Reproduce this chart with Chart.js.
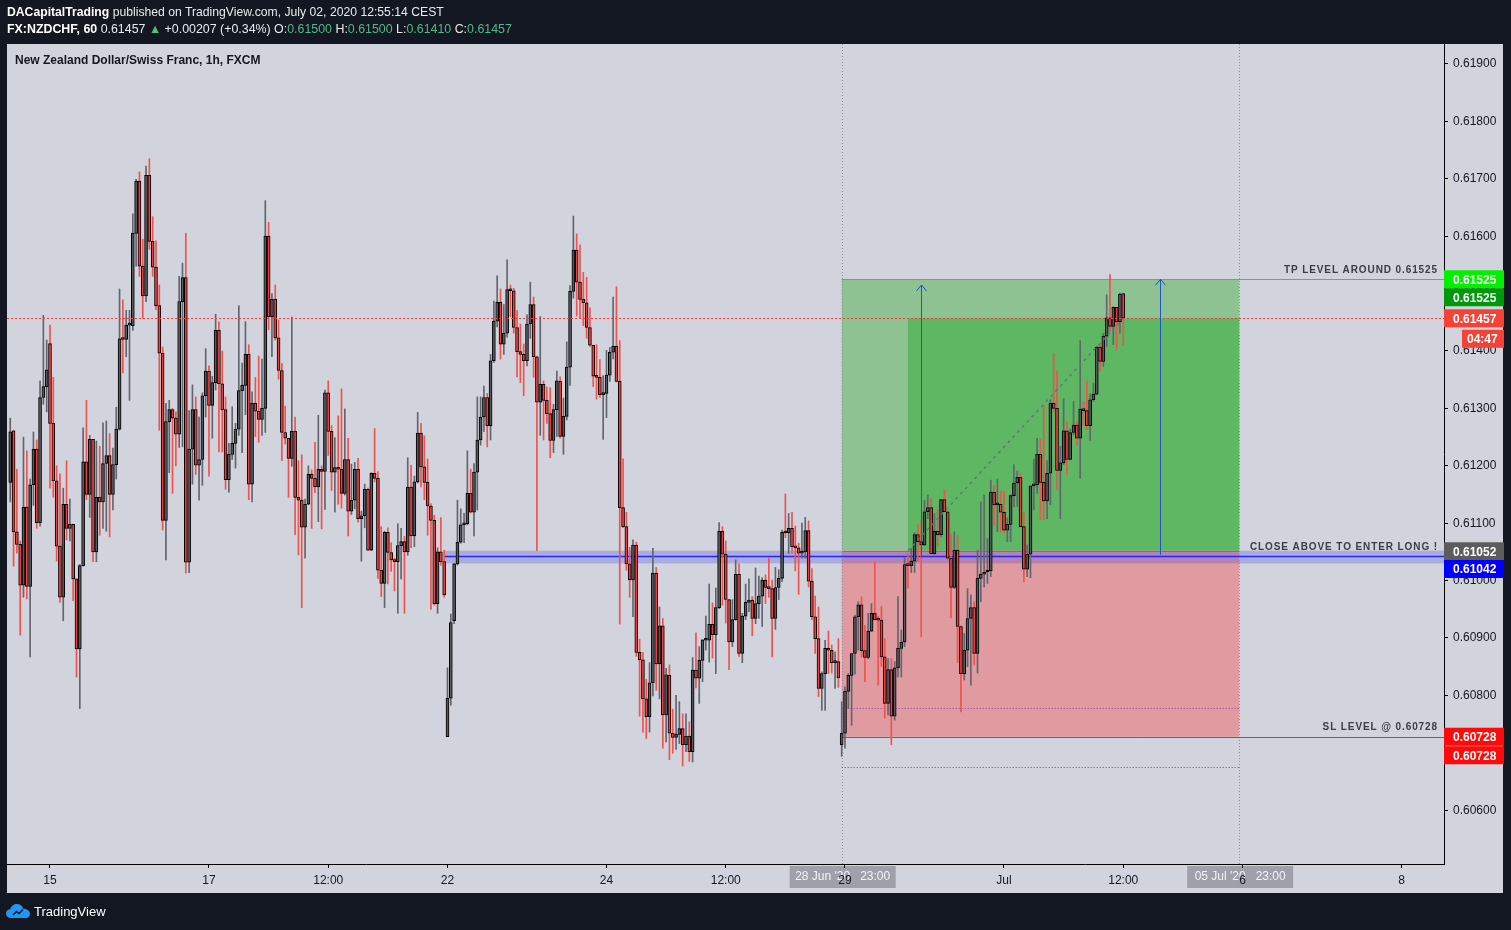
<!DOCTYPE html>
<html lang="en">
<head>
<meta charset="UTF-8">
<title>NZDCHF 1h - TradingView</title>
<script src="https://cdn.jsdelivr.net/npm/chart.js"></script>
<style>
  body { margin: 0; background: #131722; }
  #wrap { position: relative; width: 1511px; height: 930px; overflow: hidden; }
  #chart { position: absolute; left: 0; top: 0; }
  .hdr { position: absolute; left: 7px; font-family: 'Liberation Sans', Arial, sans-serif; color: #e9eaee; white-space: pre; }
  .hdr b { color: #fff; }
  .up { color: #53b987; }
  #title { position: absolute; left: 15px; top: 53px; font: bold 12px 'Liberation Sans', Arial, sans-serif; color: #131722; }
  #footer { position: absolute; left: 6px; top: 902px; height: 18px; display: flex; align-items: center; gap: 4px;
            font: 13px 'Liberation Sans', Arial, sans-serif; color: #fff; }
</style>
</head>
<body>
<div id="wrap">
  <canvas id="chart" width="1511" height="930"></canvas>
  <div class="hdr" style="top:5px; font-size:12.2px"><b>DACapitalTrading</b> published on TradingView.com, July 02, 2020 12:55:14 CEST</div>
  <div class="hdr" style="top:22px; font-size:12.4px"><b>FX:NZDCHF, 60</b> 0.61457 <span class="up">▲</span> +0.00207 (+0.34%) O:<span class="up">0.61500</span> H:<span class="up">0.61500</span> L:<span class="up">0.61410</span> C:<span class="up">0.61457</span></div>
  <div id="title">New Zealand Dollar/Swiss Franc, 1h, FXCM</div>
  <div id="footer">
    <svg width="24" height="16" viewBox="0 0 24 16">
      <path d="M5 15 C1.5 15 0 12.5 0 10.5 C0 8 2 6.2 4.3 6.3 C5 3 7.8 1 10.8 1 C14 1 16.4 3 17.2 5.8 C20.8 5.6 24 8 24 11 C24 13.3 22.3 15 20 15 Z" fill="#2196f3"/>
      <path d="M7 12 L10.5 8.5 L13 10.5 L17 6.5" stroke="#131722" stroke-width="1.6" fill="none"/>
    </svg>
    <span>TradingView</span>
  </div>
</div>
<script>
// hourly candles, first one is 12 bars before Mon 15 Jun 00:00
const firstBar = -12;

const opens = [
  0.61171,0.61261,0.61085,0.61063,0.60992,0.61128,0.60990,0.61167,0.61229,0.61101,
  0.61319,0.61338,0.61413,0.61274,0.61174,0.61060,0.60971,0.61133,0.61091,0.61098,
  0.61003,0.60881,0.61026,0.61207,0.61150,0.61246,0.61050,0.61145,0.61137,0.61204,
  0.61218,0.61150,0.61202,0.61264,0.61421,0.61420,0.61445,0.61444,0.61605,0.61696,
  0.61548,0.61496,0.61706,0.61591,0.61546,0.61479,0.61396,0.61105,0.61277,0.61298,
  0.61283,0.61255,0.61486,0.61528,0.61032,0.61229,0.61298,0.61201,0.61211,0.61322,
  0.61365,0.61305,0.61345,0.61436,0.61343,0.61298,0.61176,0.61220,0.61239,0.61264,
  0.61331,0.61340,0.61394,0.61168,0.61309,0.61295,0.61281,0.61300,0.61600,0.61460,
  0.61490,0.61423,0.61366,0.61258,0.61248,0.61213,0.61260,0.61145,0.61140,0.61093,
  0.61133,0.61185,0.61178,0.61163,0.61194,0.61190,0.61327,0.61260,0.61189,0.61197,
  0.61194,0.61152,0.61211,0.61121,0.61140,0.61194,0.61108,0.61113,0.61159,0.61053,
  0.61187,0.61178,0.61018,0.60995,0.61084,0.61049,0.61036,0.61033,0.61061,0.61068,
  0.61050,0.61163,0.61078,0.61172,0.61257,0.61198,0.61171,0.61130,0.61105,0.60960,
  0.61050,0.61033,0.60728,0.60795,0.60930,0.61029,0.61067,0.61097,0.61099,0.61152,
  0.61119,0.61189,0.61245,0.61285,0.61319,0.61270,0.61383,0.61452,0.61485,0.61412,
  0.61431,0.61507,0.61505,0.61441,0.61399,0.61394,0.61383,0.61447,0.61481,0.61390,
  0.61311,0.61342,0.61314,0.61291,0.61244,0.61298,0.61347,0.61251,0.61286,0.61372,
  0.61504,0.61576,0.61520,0.61490,0.61484,0.61441,0.61410,0.61356,0.61354,0.61324,
  0.61326,0.61358,0.61398,0.61408,0.61347,0.61127,0.61094,0.61029,0.61001,0.61062,
  0.60875,0.60862,0.60794,0.60763,0.60822,0.61013,0.60855,0.60921,0.60766,0.60835,
  0.60734,0.60727,0.60732,0.60742,0.60714,0.60729,0.60702,0.60844,0.60830,0.60861,
  0.60896,0.60896,0.60924,0.60906,0.60953,0.61086,0.61046,0.60967,0.60893,0.60932,
  0.61011,0.60873,0.60938,0.60962,0.60966,0.60934,0.60960,0.60973,0.61001,0.60988,
  0.60986,0.60934,0.60988,0.61004,0.61084,0.61083,0.61091,0.61059,0.61057,0.61048,
  0.61050,0.61087,0.60999,0.60937,0.60899,0.60812,0.60838,0.60882,0.60879,0.60857,
  0.60859,0.60714,0.60734,0.60807,0.60835,0.60873,0.60937,0.60958,0.60878,0.60866,
  0.60912,0.60943,0.60932,0.60931,0.60867,0.60786,0.60845,0.60764,0.60848,0.60882,
  0.60893,0.61028,0.61026,0.61034,0.61080,0.61068,0.61062,0.61120,0.61127,0.61047,
  0.61086,0.61080,0.61141,0.61120,0.61039,0.60988,0.61053,0.60920,0.60838,0.60879,
  0.60934,0.60953,0.60873,0.61004,0.61011,0.61015,0.61017,0.61154,0.61132,0.61133,
  0.61119,0.61088,0.61098,0.61148,0.61170,0.61180,0.61094,0.61020,0.61046,0.61165,
  0.61167,0.61220,0.61171,0.61139,0.61187,0.61309,0.61300,0.61192,0.61205,0.61261,
  0.61211,0.61258,0.61271,0.61248,0.61299,0.61296,0.61270,0.61315,0.61325,0.61407,
  0.61382,0.61426,0.61458,0.61443,0.61476,0.61451,0.61500
];

const highs = [
  0.61283,0.61262,0.61194,0.61069,0.61250,0.61226,0.61177,0.61259,0.61245,0.61348,
  0.61462,0.61419,0.61445,0.61354,0.61200,0.61186,0.61161,0.61209,0.61142,0.61098,
  0.61003,0.61028,0.61266,0.61314,0.61253,0.61246,0.61243,0.61234,0.61275,0.61278,
  0.61256,0.61231,0.61302,0.61508,0.61489,0.61471,0.61471,0.61639,0.61699,0.61712,
  0.61595,0.61722,0.61735,0.61634,0.61592,0.61515,0.61407,0.61309,0.61314,0.61300,
  0.61294,0.61530,0.61553,0.61605,0.61296,0.61341,0.61320,0.61285,0.61327,0.61404,
  0.61374,0.61356,0.61464,0.61451,0.61400,0.61320,0.61239,0.61303,0.61274,0.61479,
  0.61379,0.61451,0.61411,0.61329,0.61354,0.61391,0.61386,0.61662,0.61624,0.61500,
  0.61515,0.61454,0.61378,0.61304,0.61248,0.61459,0.61285,0.61209,0.61219,0.61142,
  0.61200,0.61193,0.61241,0.61288,0.61200,0.61332,0.61348,0.61270,0.61249,0.61287,
  0.61334,0.61299,0.61248,0.61203,0.61206,0.61213,0.61121,0.61168,0.61161,0.61188,
  0.61265,0.61190,0.61094,0.61086,0.61092,0.61066,0.61039,0.61099,0.61091,0.61077,
  0.61214,0.61201,0.61182,0.61293,0.61274,0.61252,0.61212,0.61134,0.61114,0.61057,
  0.61110,0.61053,0.60848,0.60942,0.61030,0.61140,0.61125,0.61117,0.61226,0.61194,
  0.61204,0.61320,0.61320,0.61339,0.61326,0.61394,0.61487,0.61531,0.61508,0.61481,
  0.61559,0.61515,0.61509,0.61471,0.61447,0.61412,0.61463,0.61520,0.61494,0.61391,
  0.61460,0.61348,0.61337,0.61336,0.61307,0.61365,0.61355,0.61318,0.61416,0.61514,
  0.61635,0.61604,0.61585,0.61537,0.61528,0.61475,0.61410,0.61411,0.61385,0.61357,
  0.61401,0.61406,0.61494,0.61512,0.61418,0.61212,0.61119,0.61058,0.61071,0.61067,
  0.60898,0.60875,0.60828,0.60857,0.61056,0.61023,0.60954,0.60934,0.60847,0.60853,
  0.60776,0.60800,0.60789,0.60768,0.60768,0.60754,0.60866,0.60909,0.60885,0.60897,
  0.60938,0.60994,0.60961,0.60987,0.61101,0.61094,0.61069,0.60967,0.60967,0.61036,
  0.61029,0.60943,0.60994,0.61003,0.60972,0.61022,0.61008,0.61005,0.61010,0.61040,
  0.61001,0.61023,0.61019,0.61088,0.61151,0.61117,0.61119,0.61095,0.61065,0.61100,
  0.61110,0.61104,0.61021,0.60973,0.60954,0.60841,0.60896,0.60912,0.60888,0.60876,
  0.60899,0.60789,0.60815,0.60838,0.60873,0.60940,0.60963,0.60972,0.60922,0.60943,
  0.60960,0.61033,0.60938,0.60955,0.60899,0.60864,0.60864,0.60859,0.60972,0.60914,
  0.61040,0.61047,0.61056,0.61084,0.61097,0.61105,0.61140,0.61149,0.61143,0.61117,
  0.61124,0.61141,0.61158,0.61120,0.61081,0.61085,0.61079,0.60921,0.60908,0.60986,
  0.60975,0.60963,0.61053,0.61137,0.61149,0.61073,0.61175,0.61166,0.61177,0.61156,
  0.61156,0.61109,0.61150,0.61202,0.61191,0.61187,0.61119,0.61062,0.61165,0.61212,
  0.61248,0.61247,0.61305,0.61209,0.61315,0.61396,0.61365,0.61234,0.61317,0.61277,
  0.61264,0.61312,0.61278,0.61418,0.61312,0.61348,0.61326,0.61344,0.61408,0.61411,
  0.61431,0.61498,0.61533,0.61477,0.61476,0.61501,0.61500
];

const lows = [
  0.61137,0.61025,0.61048,0.60905,0.60971,0.60968,0.60867,0.61131,0.61091,0.61095,
  0.61307,0.61294,0.61161,0.61145,0.61034,0.60962,0.60930,0.61071,0.61069,0.60965,
  0.60832,0.60777,0.61025,0.61141,0.61110,0.61033,0.61033,0.61079,0.61091,0.61086,
  0.61076,0.61123,0.61177,0.61262,0.61362,0.61390,0.61314,0.61436,0.61548,0.61530,
  0.61457,0.61486,0.61577,0.61530,0.61472,0.61262,0.61088,0.61036,0.61188,0.61152,
  0.61200,0.61232,0.61233,0.61013,0.61014,0.61168,0.61185,0.61140,0.61166,0.61285,
  0.61182,0.61248,0.61332,0.61224,0.61224,0.61159,0.61154,0.61211,0.61196,0.61253,
  0.61223,0.61289,0.61141,0.61137,0.61251,0.61241,0.61253,0.61258,0.61437,0.61390,
  0.61419,0.61351,0.61209,0.61238,0.61145,0.61199,0.61080,0.61045,0.60953,0.61039,
  0.61132,0.61091,0.61153,0.61103,0.61090,0.61124,0.61218,0.61157,0.61119,0.61133,
  0.61126,0.61149,0.61078,0.61115,0.61125,0.61102,0.61034,0.61092,0.61052,0.61052,
  0.61172,0.61004,0.60972,0.60953,0.60994,0.61016,0.60982,0.60943,0.61003,0.60943,
  0.61044,0.61057,0.61059,0.61170,0.61163,0.61141,0.61079,0.60950,0.60957,0.60943,
  0.61027,0.60971,0.60728,0.60783,0.60925,0.61027,0.61065,0.61066,0.61097,0.61118,
  0.61078,0.61123,0.61236,0.61260,0.61233,0.61245,0.61380,0.61442,0.61386,0.61394,
  0.61424,0.61460,0.61431,0.61355,0.61345,0.61322,0.61374,0.61422,0.61354,0.61052,
  0.61253,0.61245,0.61274,0.61214,0.61223,0.61251,0.61248,0.61220,0.61280,0.61340,
  0.61492,0.61461,0.61458,0.61444,0.61422,0.61408,0.61338,0.61316,0.61319,0.61246,
  0.61284,0.61347,0.61386,0.61346,0.60924,0.61092,0.61018,0.60971,0.60937,0.60868,
  0.60764,0.60736,0.60725,0.60736,0.60799,0.60809,0.60794,0.60708,0.60719,0.60688,
  0.60699,0.60706,0.60716,0.60677,0.60702,0.60685,0.60684,0.60813,0.60786,0.60824,
  0.60879,0.60858,0.60865,0.60838,0.60951,0.60957,0.60926,0.60845,0.60885,0.60931,
  0.60868,0.60857,0.60932,0.60946,0.60904,0.60925,0.60934,0.60920,0.60960,0.60971,
  0.60867,0.60915,0.60967,0.60998,0.61075,0.61047,0.61047,0.61017,0.60976,0.61039,
  0.61039,0.60989,0.60932,0.60873,0.60798,0.60774,0.60774,0.60838,0.60839,0.60812,
  0.60814,0.60694,0.60708,0.60777,0.60748,0.60837,0.60879,0.60867,0.60824,0.60864,
  0.60911,0.60931,0.60818,0.60850,0.60761,0.60766,0.60714,0.60757,0.60832,0.60832,
  0.60885,0.60987,0.61014,0.61014,0.61033,0.60902,0.61061,0.61108,0.61046,0.61046,
  0.61061,0.61076,0.61120,0.61037,0.60935,0.60986,0.60857,0.60771,0.60827,0.60850,
  0.60818,0.60853,0.60839,0.60963,0.60989,0.60995,0.61007,0.61097,0.61085,0.61084,
  0.61083,0.61068,0.61068,0.61129,0.61129,0.61094,0.60998,0.61007,0.61005,0.61123,
  0.61152,0.61106,0.61106,0.61108,0.61132,0.61294,0.61158,0.61108,0.61202,0.61184,
  0.61210,0.61254,0.61236,0.61178,0.61271,0.61263,0.61244,0.61312,0.61324,0.61365,
  0.61373,0.61408,0.61434,0.61411,0.61402,0.61431,0.61410
];

const closes = [
  0.61259,0.61085,0.61063,0.60992,0.61128,0.60990,0.61167,0.61229,0.61101,0.61319,
  0.61338,0.61367,0.61274,0.61174,0.61060,0.60971,0.61133,0.61091,0.61098,0.61003,
  0.60881,0.61026,0.61207,0.61150,0.61246,0.61050,0.61145,0.61137,0.61204,0.61218,
  0.61150,0.61202,0.61264,0.61421,0.61420,0.61445,0.61446,0.61605,0.61696,0.61548,
  0.61496,0.61706,0.61591,0.61546,0.61479,0.61396,0.61105,0.61277,0.61298,0.61283,
  0.61255,0.61486,0.61528,0.61032,0.61229,0.61298,0.61201,0.61211,0.61322,0.61365,
  0.61305,0.61345,0.61436,0.61343,0.61298,0.61176,0.61220,0.61239,0.61264,0.61331,
  0.61340,0.61394,0.61168,0.61309,0.61295,0.61281,0.61300,0.61600,0.61460,0.61490,
  0.61423,0.61366,0.61258,0.61248,0.61213,0.61260,0.61145,0.61140,0.61093,0.61133,
  0.61185,0.61178,0.61163,0.61194,0.61190,0.61327,0.61260,0.61189,0.61197,0.61194,
  0.61152,0.61211,0.61121,0.61140,0.61194,0.61108,0.61113,0.61159,0.61053,0.61187,
  0.61178,0.61018,0.60995,0.61084,0.61049,0.61036,0.61033,0.61061,0.61068,0.61050,
  0.61163,0.61078,0.61172,0.61257,0.61198,0.61171,0.61130,0.61105,0.60960,0.61050,
  0.61033,0.60975,0.60795,0.60927,0.61029,0.61067,0.61097,0.61099,0.61152,0.61119,
  0.61189,0.61245,0.61285,0.61319,0.61270,0.61383,0.61452,0.61485,0.61412,0.61431,
  0.61507,0.61505,0.61441,0.61399,0.61394,0.61383,0.61447,0.61481,0.61390,0.61311,
  0.61342,0.61314,0.61291,0.61244,0.61298,0.61348,0.61251,0.61286,0.61372,0.61504,
  0.61576,0.61520,0.61490,0.61484,0.61441,0.61410,0.61356,0.61354,0.61324,0.61326,
  0.61358,0.61398,0.61408,0.61347,0.61127,0.61094,0.61029,0.61001,0.61062,0.60875,
  0.60862,0.60794,0.60763,0.60822,0.61013,0.60855,0.60921,0.60766,0.60836,0.60734,
  0.60727,0.60732,0.60742,0.60714,0.60729,0.60702,0.60844,0.60830,0.60861,0.60897,
  0.60897,0.60924,0.60906,0.60953,0.61086,0.61046,0.60967,0.60893,0.60932,0.61011,
  0.60873,0.60938,0.60962,0.60966,0.60934,0.60960,0.60973,0.61001,0.60988,0.60986,
  0.60934,0.60988,0.61004,0.61084,0.61083,0.61091,0.61059,0.61057,0.61048,0.61050,
  0.61087,0.60999,0.60937,0.60899,0.60812,0.60838,0.60882,0.60879,0.60857,0.60859,
  0.60831,0.60734,0.60807,0.60835,0.60873,0.60937,0.60958,0.60878,0.60866,0.60912,
  0.60943,0.60932,0.60931,0.60867,0.60786,0.60845,0.60764,0.60848,0.60882,0.60893,
  0.61028,0.61026,0.61034,0.61080,0.61068,0.61062,0.61120,0.61127,0.61047,0.61086,
  0.61080,0.61141,0.61120,0.61039,0.60988,0.61053,0.60920,0.60838,0.60879,0.60934,
  0.60953,0.60873,0.61004,0.61011,0.61015,0.61017,0.61154,0.61132,0.61133,0.61119,
  0.61088,0.61098,0.61148,0.61170,0.61180,0.61094,0.61020,0.61046,0.61165,0.61167,
  0.61220,0.61171,0.61139,0.61187,0.61309,0.61300,0.61192,0.61205,0.61261,0.61211,
  0.61258,0.61271,0.61248,0.61299,0.61296,0.61270,0.61315,0.61325,0.61407,0.61382,
  0.61426,0.61458,0.61443,0.61476,0.61451,0.61499,0.61457
];

// axes
const timeTickBars = [0, 48, 84, 120, 168, 204, 240, 288, 324, 360, 408];
const timeTickLabels = ['15', '17', '12:00', '22', '24', '12:00', '29', 'Jul', '12:00', '6', '8'];
const priceTicks = [0.606, 0.607, 0.608, 0.609, 0.610, 0.611, 0.612, 0.613, 0.614, 0.615, 0.616, 0.617, 0.618, 0.619];
const xMin = -12.98, xMax = 420.83;
const yMin = 0.6050627, yMax = 0.6193484;

// long position drawing
const posStartBar = 239, posEndBar = 359, fillStartBar = 259;
const tpPrice = 0.61525, entryPrice = 0.61052, slPrice = 0.60728, lastPrice = 0.61457;
const zoneBar = 119, zoneTop = 0.61052, zoneBottom = 0.61030, zoneLine = 0.61042;
const dottedLevels = [0.60778, 0.60675];
const arrowBars = [263, 335];
const arrowFrom = [0.61040, 0.61045];
const arrowTo = [0.61515, 0.61525];
const trendBars = [259, 324];
const trendPrices = [0.61052, 0.61457];
const dateMarks = ["28 Jun '20   23:00", "05 Jul '20   23:00"];
const noteTexts = ['TP LEVEL AROUND 0.61525', 'CLOSE ABOVE TO ENTER LONG !', 'SL LEVEL @ 0.60728'];
const notePrices = [tpPrice, zoneLine, slPrice];

const FONT = "'Liberation Sans', Arial, sans-serif";
const upFill = '#56585e', downFill = '#f23b3b';
const upWick = '#62656f', downWick = '#f0524e';

const bars = opens.map((o, i) => i + firstBar);
const isUp = opens.map((o, i) => closes[i] >= o);

const panelPlugin = {
  id: 'panel',
  beforeDraw(chart) {
    const { ctx } = chart;
    const x = chart.scales.x;
    ctx.save();
    ctx.fillStyle = '#131722';
    ctx.fillRect(0, 0, chart.width, chart.height);
    ctx.fillStyle = '#d1d4dc';
    ctx.fillRect(7, 44, 1496, 849);
    // highlighted dates on the time axis
    ctx.font = '12px ' + FONT;
    ctx.textBaseline = 'middle';
    ctx.textAlign = 'center';
    [posStartBar, posEndBar].forEach((b, k) => {
      const cx = x.getPixelForValue(b);
      ctx.fillStyle = '#9ea1a9';
      ctx.fillRect(cx - 52, 866, 106, 22);
      ctx.fillStyle = '#f4f4f6';
      ctx.fillText(dateMarks[k], cx + 1, 877);
    });
    ctx.restore();
  },
  beforeDatasetsDraw(chart) {
    const { ctx, chartArea: a } = chart;
    const X = v => chart.scales.x.getPixelForValue(v);
    const Y = v => chart.scales.y.getPixelForValue(v);
    ctx.save();
    ctx.beginPath();
    ctx.rect(a.left, a.top, a.right - a.left, a.bottom - a.top);
    ctx.clip();

    const x0 = X(posStartBar), x1 = X(posEndBar), xf = X(fillStartBar);
    ctx.fillStyle = '#8fc293';
    ctx.fillRect(x0, Y(tpPrice), x1 - x0, Y(entryPrice) - Y(tpPrice));
    ctx.fillStyle = '#5db763';
    ctx.fillRect(xf, Y(lastPrice), x1 - xf, Y(entryPrice) - Y(lastPrice));
    ctx.fillStyle = '#df9ba0';
    ctx.fillRect(x0, Y(entryPrice), x1 - x0, Y(slPrice) - Y(entryPrice));

    // entry zone band
    const xb = X(zoneBar);
    ctx.fillStyle = 'rgba(70,70,235,0.28)';
    ctx.fillRect(xb, Y(zoneTop), a.right - xb, Y(zoneBottom) - Y(zoneTop));
    ctx.strokeStyle = '#8a6c86';
    ctx.lineWidth = 1;
    ctx.beginPath();
    ctx.moveTo(x0, Math.round(Y(entryPrice)) + 0.5);
    ctx.lineTo(x1, Math.round(Y(entryPrice)) + 0.5);
    ctx.stroke();
    ctx.strokeStyle = '#2626f0';
    ctx.lineWidth = 1.3;
    ctx.beginPath();
    ctx.moveTo(xb, Y(zoneLine));
    ctx.lineTo(a.right, Y(zoneLine));
    ctx.stroke();

    // vertical dotted bounds of the position
    ctx.lineWidth = 1;
    ctx.setLineDash([1, 2]);
    ctx.strokeStyle = '#8d909a';
    [x0, x1].forEach(px => {
      ctx.beginPath();
      ctx.moveTo(Math.round(px) + 0.5, a.top);
      ctx.lineTo(Math.round(px) + 0.5, a.bottom);
      ctx.stroke();
    });
    // dotted levels
    ['#9c3fa8', '#555860'].forEach((c, k) => {
      ctx.strokeStyle = c;
      ctx.beginPath();
      const py = Math.round(Y(dottedLevels[k])) + 0.5;
      ctx.moveTo(x0, py);
      ctx.lineTo(x1, py);
      ctx.stroke();
    });
    ctx.setLineDash([]);

    // TP / SL lines
    ctx.strokeStyle = '#2bd52b';
    ctx.beginPath();
    ctx.moveTo(x0, Math.round(Y(tpPrice)) + 0.5);
    ctx.lineTo(a.right, Math.round(Y(tpPrice)) + 0.5);
    ctx.stroke();
    ctx.strokeStyle = '#f22a2a';
    ctx.beginPath();
    ctx.moveTo(x0, Math.round(Y(slPrice)) + 0.5);
    ctx.lineTo(a.right, Math.round(Y(slPrice)) + 0.5);
    ctx.stroke();
    ctx.restore();
  },
  afterDatasetsDraw(chart) {
    const { ctx, chartArea: a } = chart;
    const X = v => chart.scales.x.getPixelForValue(v);
    const Y = v => chart.scales.y.getPixelForValue(v);
    ctx.save();
    ctx.beginPath();
    ctx.rect(a.left, a.top, a.right - a.left, a.bottom - a.top);
    ctx.clip();

    // last price line
    ctx.strokeStyle = '#f23b3b';
    ctx.lineWidth = 1;
    ctx.setLineDash([2, 2]);
    ctx.beginPath();
    ctx.moveTo(a.left, Math.round(Y(lastPrice)) + 0.5);
    ctx.lineTo(a.right, Math.round(Y(lastPrice)) + 0.5);
    ctx.stroke();

    // projection line
    ctx.strokeStyle = '#6c6f78';
    ctx.lineWidth = 1.4;
    ctx.setLineDash([3, 4]);
    ctx.beginPath();
    ctx.moveTo(X(trendBars[0]), Y(trendPrices[0]));
    ctx.lineTo(X(trendBars[1]), Y(trendPrices[1]));
    ctx.stroke();
    ctx.setLineDash([]);

    // arrows
    ctx.strokeStyle = '#2453c4';
    ctx.lineWidth = 1;
    arrowBars.forEach((b, k) => {
      const px = Math.round(X(b)) + 0.5, ya = Y(arrowFrom[k]), yb = Y(arrowTo[k]);
      ctx.beginPath();
      ctx.moveTo(px, ya);
      ctx.lineTo(px, yb);
      ctx.moveTo(px - 5, yb + 6);
      ctx.lineTo(px, yb);
      ctx.lineTo(px + 5, yb + 6);
      ctx.stroke();
    });

    // notes
    ctx.font = 'bold 10px ' + FONT;
    ctx.letterSpacing = '0.9px';
    ctx.fillStyle = '#3a3d46';
    ctx.textAlign = 'right';
    ctx.textBaseline = 'middle';
    noteTexts.forEach((t, k) => ctx.fillText(t, a.right - 6, Y(notePrices[k]) - 9));
    ctx.restore();
  },
  afterDraw(chart) {
    const { ctx, chartArea: a } = chart;
    const Y = v => chart.scales.y.getPixelForValue(v);
    const tags = [
      [tpPrice, '#00f000', 0], [tpPrice, '#00990a', 18], [lastPrice, '#f44336', 0],
      [entryPrice, '#5c5c5c', 0.5], [zoneLine, '#0000ff', 12.5],
      [slPrice, '#ff0a0a', 0], [slPrice, '#ff0a0a', 18.5]
    ];
    ctx.save();
    ctx.font = 'bold 12px ' + FONT;
    ctx.textBaseline = 'middle';
    ctx.textAlign = 'left';
    tags.forEach(([p, bg, dy]) => {
      const cy = Y(p) + dy;
      ctx.fillStyle = bg;
      ctx.fillRect(a.right, cy - 9, 60, 18);
      ctx.fillStyle = '#ffffff';
      ctx.fillText(p.toFixed(5), a.right + 9, cy + 1);
    });
    // bar countdown
    const cy = Y(lastPrice) + 20.5;
    ctx.fillStyle = '#f44336';
    ctx.fillRect(a.right + 18, cy - 9, 42, 18);
    ctx.fillStyle = '#ffffff';
    ctx.fillText('04:47', a.right + 23, cy + 1);
    ctx.restore();
  }
};

new Chart(document.getElementById('chart'), {
  type: 'bar',
  data: {
    datasets: [
      {
        label: 'wick',
        data: bars.map((b, i) => ({ x: b, y: [lows[i], highs[i]] })),
        backgroundColor: isUp.map(u => u ? upWick : downWick),
        barThickness: 1,
        grouped: false,
        order: 2
      },
      {
        label: 'body',
        data: bars.map((b, i) => ({ x: b, y: [opens[i], closes[i]] })),
        backgroundColor: isUp.map(u => u ? upFill : downFill),
        borderColor: '#000000',
        borderWidth: 1,
        borderSkipped: false,
        barThickness: 3,
        minBarLength: 2,
        grouped: false,
        order: 1
      }
    ]
  },
  options: {
    responsive: false,
    animation: false,
    devicePixelRatio: 1,
    layout: { padding: { left: 7, top: 44, right: 8, bottom: 37 } },
    plugins: { legend: { display: false }, tooltip: { enabled: false } },
    scales: {
      x: {
        type: 'linear',
        min: xMin,
        max: xMax,
        offset: false,
        grid: { display: true, offset: false, drawOnChartArea: false, drawTicks: true, tickLength: 4, color: '#000' },
        border: { display: true, color: '#000' },
        ticks: {
          autoSkip: false, maxRotation: 0, color: '#131722', padding: 5,
          font: { family: FONT, size: 12 },
          callback: (v, i) => timeTickLabels[i]
        },
        afterBuildTicks: s => { s.ticks = timeTickBars.map(v => ({ value: v })); },
        afterFit: s => { s.height = 29; }
      },
      y: {
        position: 'right',
        min: yMin,
        max: yMax,
        grid: { display: true, offset: false, drawOnChartArea: false, drawTicks: true, tickLength: 4, color: '#000' },
        border: { display: true, color: '#000' },
        ticks: {
          color: '#131722', padding: 5,
          font: { family: FONT, size: 12 },
          callback: v => v.toFixed(5)
        },
        afterBuildTicks: s => { s.ticks = priceTicks.map(v => ({ value: v })); },
        afterFit: s => { s.width = 59; }
      }
    }
  },
  plugins: [panelPlugin]
});
</script>
</body>
</html>
